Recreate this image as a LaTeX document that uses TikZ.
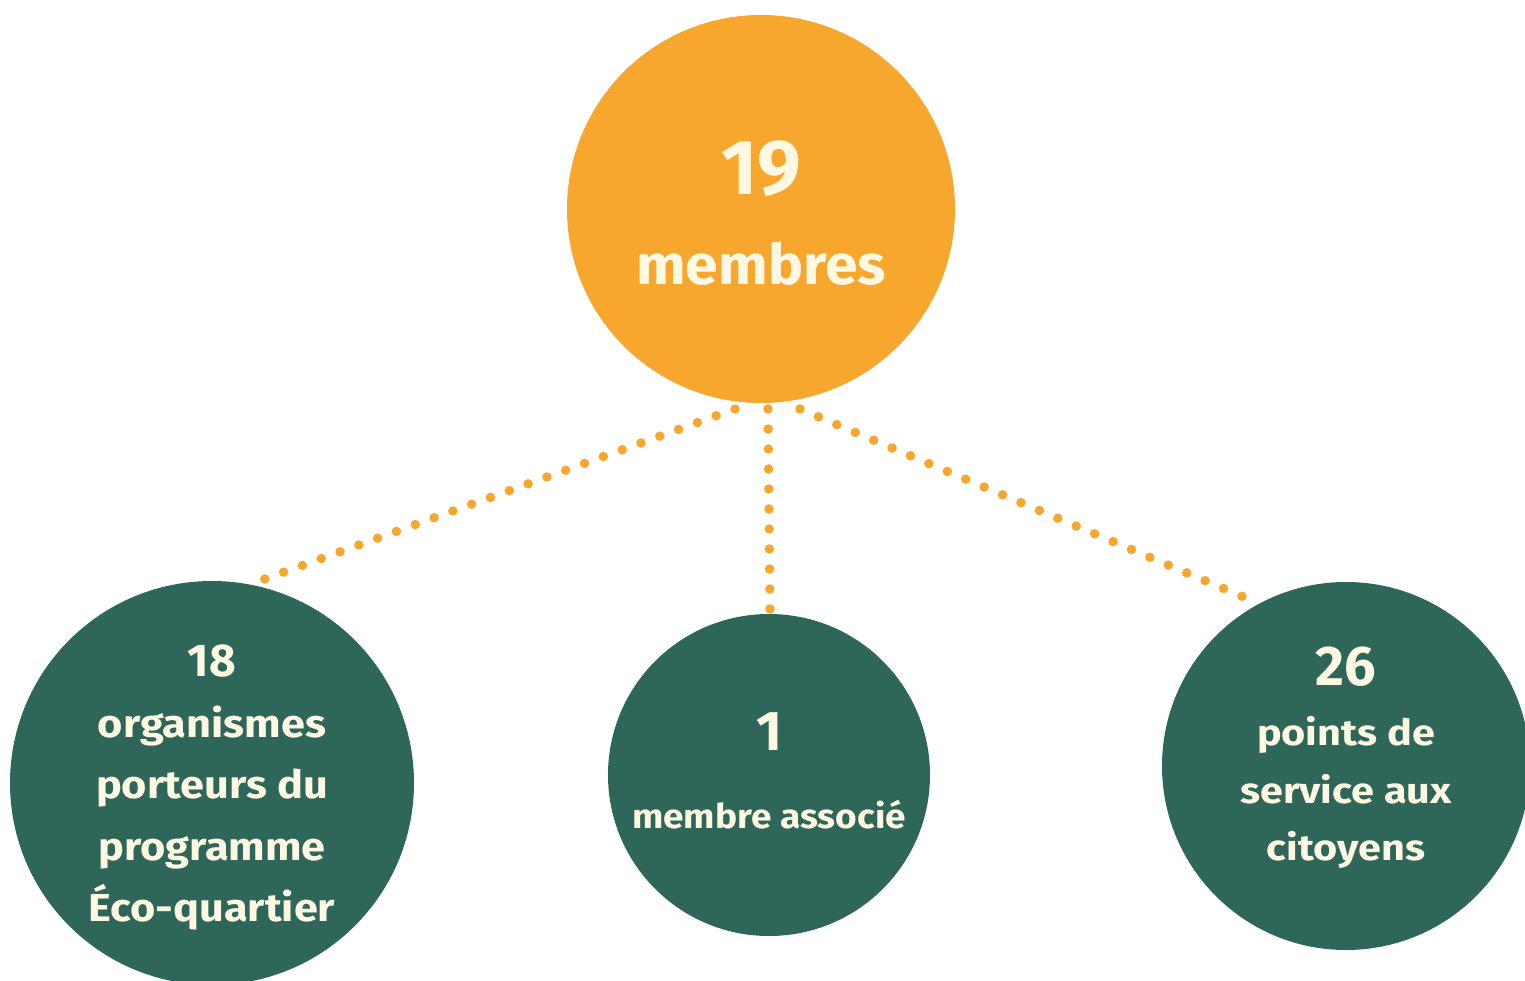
\documentclass[tikz,border=0pt]{standalone}
\usepackage{graphicx}
\usepackage{fontspec}
\setmainfont{Fira Sans}
\definecolor{orangec}{HTML}{F7A72D}
\definecolor{greenc}{HTML}{2E665A}
\definecolor{creamc}{HTML}{FFF8E2}
\newcommand{\widen}[2]{\scalebox{#1}[1]{#2}}
\begin{document}
\begin{tikzpicture}[x=1pt,y=-1pt,
  disc/.style={circle,inner sep=0pt,draw=none},
  lbl/.style={anchor=base,text=creamc,inner sep=0pt,font=\bfseries},
  dots/.style={draw=orangec,line width=9.5pt,line cap=round,dash pattern=on 0pt off 20pt}]
\useasboundingbox (0,0) rectangle (1525,981);
\fill[white] (0,0) rectangle (1525,981);
% circles
\node[disc,fill=orangec,minimum size=388pt] (top) at (761,209) {};
\node[disc,fill=greenc,minimum size=404pt] (left) at (212,783) {};
\node[disc,fill=greenc,minimum size=322pt] (mid) at (769,775) {};
\node[disc,fill=greenc,minimum size=368pt] (right) at (1346,766) {};
% connector ends
\coordinate (l1) at (735,409);
\coordinate (l2) at (262,580);
\coordinate (m1) at (768,409);
\coordinate (m2) at (770,609);
\coordinate (r1) at (800,409);
\coordinate (r2) at (1246,598);
\draw[dots] (l1) -- (l2);
\draw[dots] (m1) -- (m2);
\draw[dots] (r1) -- (r2);
% texts
\node[lbl,font=\bfseries\fontsize{78}{78}\selectfont] (t19) at (761,195) {19};
\node[lbl,font=\bfseries\fontsize{56}{56}\selectfont] (tmem) at (761,285) {\widen{1.05}{membres}};
\node[lbl,font=\bfseries\fontsize{46}{46}\selectfont] (t18) at (212,676) {18};
\node[lbl,font=\bfseries\fontsize{39}{39}\selectfont] (tl1) at (212,737) {\widen{1.11}{organismes}};
\node[lbl,font=\bfseries\fontsize{39}{39}\selectfont] (tl2) at (212,798) {\widen{1.11}{porteurs du}};
\node[lbl,font=\bfseries\fontsize{39}{39}\selectfont] (tl3) at (212,860) {\widen{1.11}{programme}};
\node[lbl,font=\bfseries\fontsize{39}{39}\selectfont] (tl4) at (212,921) {\widen{1.11}{Éco-quartier}};
\node[lbl,font=\bfseries\fontsize{56}{56}\selectfont] (t1) at (769,750) {1};
\node[lbl,font=\bfseries\fontsize{34}{34}\selectfont] (tm1) at (769,828) {\widen{1.09}{membre associé}};
\node[lbl,font=\bfseries\fontsize{56}{56}\selectfont] (t26) at (1346,685) {26};
\node[lbl,font=\bfseries\fontsize{36}{36}\selectfont] (tr1) at (1346,745) {\widen{1.15}{points de}};
\node[lbl,font=\bfseries\fontsize{36}{36}\selectfont] (tr2) at (1346,803) {\widen{1.15}{service aux}};
\node[lbl,font=\bfseries\fontsize{36}{36}\selectfont] (tr3) at (1346,860) {\widen{1.15}{citoyens}};
\end{tikzpicture}
\end{document}
